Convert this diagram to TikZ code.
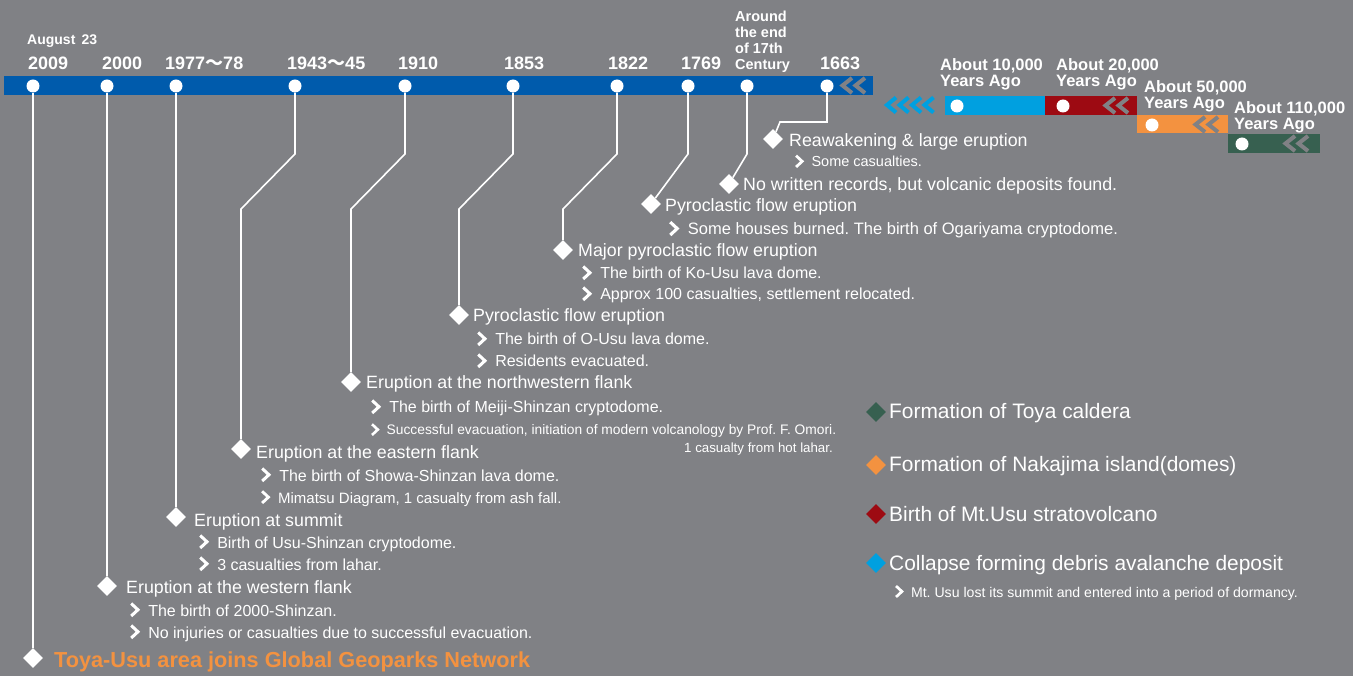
\documentclass[tikz,border=0pt]{standalone}
\usepackage{fontspec}
\setmainfont{Liberation Sans}
\newfontfamily\cjk{Noto Sans CJK JP}
\usepackage{tikz}
\usetikzlibrary{positioning, shapes.geometric}

\definecolor{bggray}{RGB}{128,129,133}
\definecolor{barblue}{RGB}{0,91,172}
\definecolor{skyblue}{RGB}{0,160,224}
\definecolor{darkred}{RGB}{157,10,18}
\definecolor{geoorange}{RGB}{243,146,64}
\definecolor{darkgreen}{RGB}{55,96,80}

% small white bullet in front of the detail lines
\newcommand{\chevbul}{\tikz[baseline=0pt]\draw[white,line width=0.19em] (0,0.78em) -- (0.42em,0.39em) -- (0,0);\hspace{0.55em}}
\newcommand{\wave}{{\cjk ～}}
\frenchspacing

\begin{document}
\begin{tikzpicture}[x=1pt, y=-1pt,
      yeardot/.style={circle, fill=white, inner sep=0pt, minimum size=13pt},
      gem/.style={diamond, fill=white, inner sep=0pt, minimum size=20pt},
      link/.style={white, line width=1.6pt},
      chevron/.style={line width=4pt},
      year/.style={anchor=base west, inner sep=0pt, text=white, font=\fontsize{18}{20}\selectfont\bfseries},
      ago/.style={anchor=base west, inner sep=0pt, text=white, align=left, font=\fontsize{16.5}{16}\selectfont\bfseries},
      evtitle/.style={anchor=base west, inner sep=0pt, text=white, font=\fontsize{17.8}{20}\selectfont},
      evsub/.style={anchor=base west, inner sep=0pt, text=white, font=\fontsize{16}{18}\selectfont},
      legtext/.style={anchor=base west, inner sep=0pt, text=white, font=\fontsize{20.9}{22}\selectfont}]
      \fill[bggray] (0,0) rectangle (1353,676);
      \useasboundingbox (0,0) rectangle (1353,676);
      % time bar
      \fill[barblue] (4,76) rectangle (873,95);
      \draw[chevron,bggray] (852,78) -- (842.5,85.5) -- (852,93) (865,78) -- (855.5,85.5) -- (865,93);
      % older periods
      \draw[chevron,skyblue] (896,97.5) -- (887,105) -- (896,112.5) (908.5,97.5) -- (899.5,105) -- (908.5,112.5)
        (921,97.5) -- (912,105) -- (921,112.5) (933.5,97.5) -- (924.5,105) -- (933.5,112.5);
      \fill[skyblue] (945,96) rectangle (1045,115);
      \fill[darkred] (1045,96) rectangle (1137,115);
      \fill[geoorange] (1137,115) rectangle (1228,133.5);
      \fill[darkgreen] (1228,134) rectangle (1320,153);
      \draw[chevron,bggray] (1115,98) -- (1105.5,105.5) -- (1115,113) (1128,98) -- (1118.5,105.5) -- (1128,113);
      \draw[chevron,bggray] (1205,117) -- (1195.5,124.5) -- (1205,132) (1218,117) -- (1208.5,124.5) -- (1218,132);
      \draw[chevron,bggray] (1295,136) -- (1285.5,143.5) -- (1295,151) (1308,136) -- (1298.5,143.5) -- (1308,151);

      % years
      \node[year, font=\fontsize{14}{16}\selectfont\bfseries] (aug) at (27,45) {August\, 23};
      \node[year] (y2009) at (28,70) {2009};
      \node[year] (y2000) at (102,70) {2000};
      \node[year] (y1977) at (165,70) {1977\wave78};
      \node[year] (y1943) at (287,70) {1943\wave45};
      \node[year] (y1910) at (398,70) {1910};
      \node[year] (y1853) at (504,70) {1853};
      \node[year] (y1822) at (608,70) {1822};
      \node[year] (y1769) at (681,70) {1769};
      \node[year, align=left, font=\fontsize{14.5}{16}\selectfont\bfseries] (y17c) at (735,69.3) {Around\\the end\\of 17th\\Century};
      \node[year] (y1663) at (820,70) {1663};
      \node[ago] (a10k) at (940,87) {About 10,000\\Years Ago};
      \node[ago] (a20k) at (1056,87) {About 20,000\\Years Ago};
      \node[ago] (a50k) at (1144,109) {About 50,000\\Years Ago};
      \node[ago] (a110k) at (1234,130) {About 110,000\\Years Ago};

      % dots on the bars
      \node[yeardot] (d2009) at (33,86) {};
      \node[yeardot] (d2000) at (107,86) {};
      \node[yeardot] (d1977) at (176,86) {};
      \node[yeardot] (d1943) at (295,86) {};
      \node[yeardot] (d1910) at (405,86) {};
      \node[yeardot] (d1853) at (513,86) {};
      \node[yeardot] (d1822) at (617,86) {};
      \node[yeardot] (d1769) at (688,86) {};
      \node[yeardot] (d17c) at (747,86) {};
      \node[yeardot] (d1663) at (827,86) {};
      \node[yeardot] (p10k) at (957,106) {};
      \node[yeardot] (p20k) at (1063,106) {};
      \node[yeardot] (p50k) at (1152,125) {};
      \node[yeardot] (p110k) at (1242,144) {};

      % events
      \node[gem] (e2009) at (33,658) {};
      \node[gem] (e2000) at (107,586) {};
      \node[gem] (e1977) at (176,517) {};
      \node[gem] (e1943) at (241,449) {};
      \node[gem] (e1910) at (351,382) {};
      \node[gem] (e1853) at (459,315) {};
      \node[gem] (e1822) at (563,250) {};
      \node[gem] (e1769) at (651,204) {};
      \node[gem] (e17c) at (729,184) {};
      \node[gem] (e1663) at (773,139) {};

      \draw[link] (d2009) -- (e2009);
      \draw[link] (d2000) -- (e2000);
      \draw[link] (d1977) -- (e1977);
      \draw[link] (d1943) -- (295,154) -- (241,209) -- (e1943);
      \draw[link] (d1910) -- (405,154) -- (351,209) -- (e1910);
      \draw[link] (d1853) -- (513,154) -- (459,209) -- (e1853);
      \draw[link] (d1822) -- (617,154) -- (563,209) -- (e1822);
      \draw[link] (d1769) -- (688,154) -- (e1769);
      \draw[link] (d17c) -- (747,154) -- (e17c);
      \draw[link] (d1663) -- (827,122) -- (780,122) -- (e1663);

      \node[evtitle, text=geoorange, font=\fontsize{21.7}{24}\selectfont\bfseries] (t2009) at (54,667) {Toya-Usu area joins Global Geoparks Network};

      \node[evtitle] (t2000) at (126,593) {Eruption at the western flank};
      \node[evsub] (s2000a) at (129.5,616) {\chevbul The birth of 2000-Shinzan.};
      \node[evsub] (s2000b) at (129.5,638) {\chevbul No injuries or casualties due to successful evacuation.};

      \node[evtitle] (t1977) at (194,526) {Eruption at summit};
      \node[evsub] (s1977a) at (198.5,548) {\chevbul Birth of Usu-Shinzan cryptodome.};
      \node[evsub] (s1977b) at (198.5,570) {\chevbul 3 casualties from lahar.};

      \node[evtitle] (t1943) at (256,458) {Eruption at the eastern flank};
      \node[evsub] (s1943a) at (260.5,481) {\chevbul The birth of Showa-Shinzan lava dome.};
      \node[evsub, font=\fontsize{15}{18}\selectfont] (s1943b) at (260.5,503) {\chevbul Mimatsu Diagram, 1 casualty from ash fall.};

      \node[evtitle] (t1910) at (366,389) {Eruption at the northwestern flank};
      \node[evsub] (s1910a) at (370.5,413) {\chevbul The birth of Meiji-Shinzan cryptodome.};
      \node[evsub, font=\fontsize{13.8}{16}\selectfont] (s1910b) at (370.5,435) {\chevbul Successful evacuation, initiation of modern volcanology by Prof. F. Omori.};
      \node[evsub, anchor=base east, font=\fontsize{13.3}{16}\selectfont] (s1910c) at (833,452) {1 casualty from hot lahar.};

      \node[evtitle] (t1853) at (473,322) {Pyroclastic flow eruption};
      \node[evsub] (s1853a) at (476.5,345) {\chevbul The birth of O-Usu lava dome.};
      \node[evsub] (s1853b) at (476.5,367) {\chevbul Residents evacuated.};

      \node[evtitle] (t1822) at (578,257) {Major pyroclastic flow eruption};
      \node[evsub] (s1822a) at (581.5,279) {\chevbul The birth of Ko-Usu lava dome.};
      \node[evsub] (s1822b) at (581.5,300) {\chevbul Approx 100 casualties, settlement relocated.};

      \node[evtitle] (t1769) at (665,212) {Pyroclastic flow eruption};
      \node[evsub, font=\fontsize{16.5}{18}\selectfont] (s1769a) at (668.5,235) {\chevbul Some houses burned. The birth of Ogariyama cryptodome.};

      \node[evtitle] (t17c) at (743,191) {No written records, but volcanic deposits found.};

      \node[evtitle] (t1663) at (789,147) {Reawakening \& large eruption};
      \node[evsub, font=\fontsize{14.5}{16}\selectfont] (s1663a) at (794.5,167) {\chevbul Some casualties.};

      % legend
      \node[gem, fill=darkgreen] (l110k) at (876,412) {};
      \node[gem, fill=geoorange] (l50k) at (876,465) {};
      \node[gem, fill=darkred] (l20k) at (876,514) {};
      \node[gem, fill=skyblue] (l10k) at (876,563) {};
      \node[legtext] (g110k) at (889,419) {Formation of Toya caldera};
      \node[legtext] (g50k) at (889,471.5) {Formation of Nakajima island(domes)};
      \node[legtext] (g20k) at (889,521) {Birth of Mt.Usu stratovolcano};
      \node[legtext] (g10k) at (889,570.7) {Collapse forming debris avalanche deposit};
      \node[evsub, font=\fontsize{14.1}{16}\selectfont] (g10ka) at (894.5,597) {\chevbul Mt. Usu lost its summit and entered into a period of dormancy.};
    \end{tikzpicture}
\end{document}
